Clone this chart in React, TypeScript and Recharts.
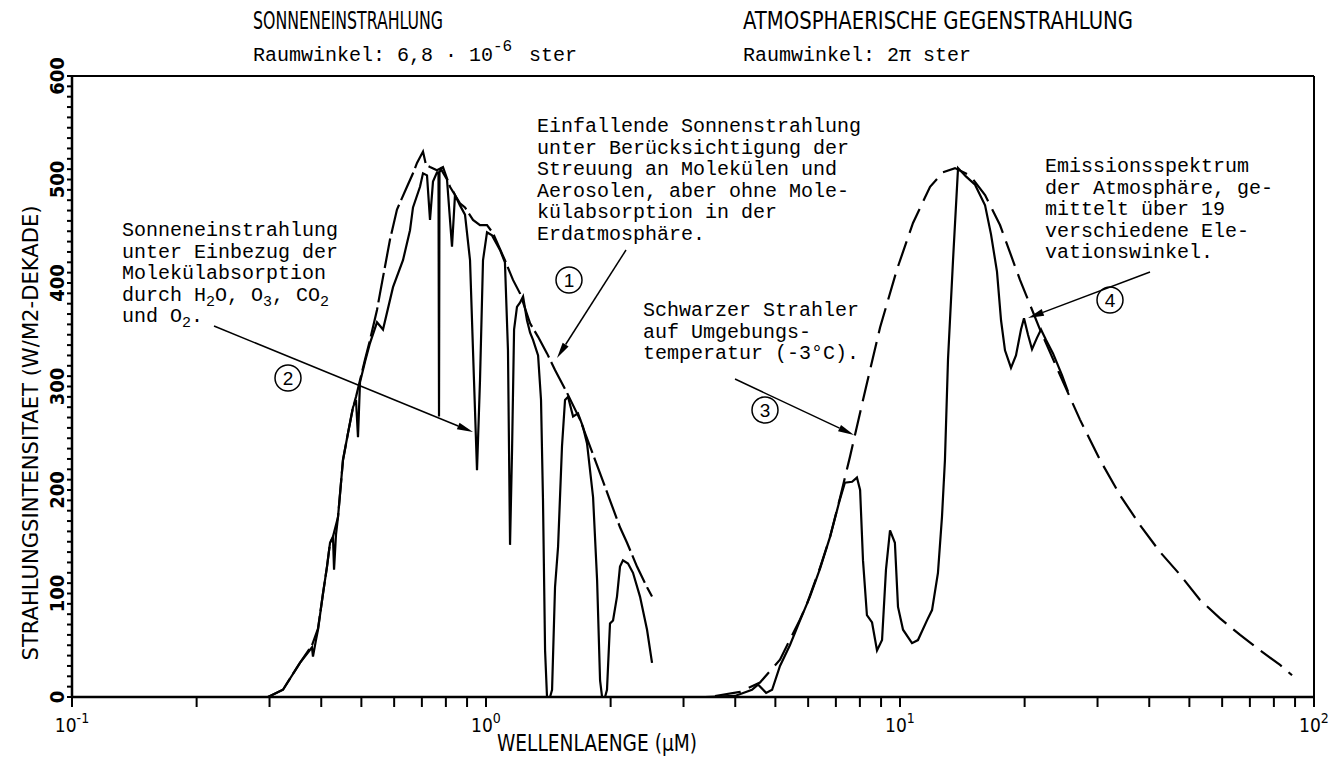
import React from 'react';
import { LineChart, Line, XAxis, YAxis, ReferenceLine } from 'recharts';

// (1) Einfallende Sonnenstrahlung ohne Molekülabsorption (gestrichelt)
const solarClearWl = [
  0.2975, 0.3233, 0.3553, 0.3799, 0.3928, 0.4039, 0.413, 0.42, 0.427, 0.4391, 0.4514, 0.4642,
  0.4773, 0.4853, 0.4962, 0.5102, 0.5246, 0.5454, 0.5546, 0.5863, 0.6095, 0.6444, 0.6663,
  0.6813, 0.7044, 0.7163, 0.7324, 0.7614, 0.7872, 0.8185, 0.8653, 0.8898, 0.9303, 0.9672,
  1.0056, 1.04, 1.111, 1.162, 1.208, 1.278, 1.336, 1.404, 1.468, 1.569, 1.687, 1.784, 1.886,
  1.993, 2.107, 2.191, 2.316, 2.449, 2.518,
];
const solarClearVal = [
  0, 7, 33, 50, 66, 100, 126, 149, 155, 174, 229, 255,
  280, 290, 306, 326, 345, 374, 390, 442, 471, 493, 506,
  516, 527, 514, 512, 509, 512, 493, 477, 473, 461, 456,
  456, 448, 422, 403, 390, 361, 348, 332, 316, 294, 268, 242, 216,
  190, 164, 149, 126, 106, 97,
];

// (2) Sonneneinstrahlung mit Molekülabsorption
const solarAbsWl = [
  0.2975, 0.3233, 0.3553, 0.3715, 0.3799, 0.382, 0.3884, 0.3928, 0.4039, 0.413, 0.42, 0.427,
  0.4295, 0.4342, 0.4391, 0.4514, 0.4642, 0.4773, 0.4853, 0.4907, 0.4962, 0.5102, 0.5246,
  0.5454, 0.5639, 0.5962, 0.6302, 0.6553, 0.6663, 0.6928, 0.7044, 0.7203, 0.7324, 0.7447,
  0.7614, 0.7678, 0.77, 0.7721, 0.7786, 0.805, 0.8277, 0.8416, 0.8653, 0.8898, 0.915, 0.9354,
  0.9512, 0.9672, 0.9835, 1.0056, 1.034, 1.081, 1.111, 1.13, 1.143, 1.156, 1.169, 1.188, 1.208,
  1.229, 1.256, 1.278, 1.299, 1.336, 1.358, 1.373, 1.389, 1.404, 1.428, 1.444, 1.468, 1.493,
  1.526, 1.552, 1.578, 1.623, 1.668, 1.715, 1.754, 1.814, 1.855, 1.886, 1.907, 1.939, 1.96,
  1.993, 2.027, 2.072, 2.107, 2.142, 2.203, 2.265, 2.355, 2.449, 2.518,
];
const solarAbsVal = [
  0, 7, 33, 43, 48, 39, 55, 65, 100, 126, 149, 154,
  123, 157, 174, 229, 255, 280, 287, 251, 304, 324, 342,
  362, 355, 396, 422, 451, 473, 493, 506, 504, 461, 498,
  507, 507, 271, 507, 510, 500, 435, 485, 475, 466, 422, 306,
  219, 306, 422, 449, 446, 432, 420, 335, 147, 239, 355, 377, 381,
  387, 364, 352, 345, 330, 287, 190, 45, 0, 0, 7, 106, 145,
  242, 287, 290, 271, 274, 261, 245, 193, 113, 16, 0, 0, 7,
  71, 74, 97, 126, 132, 129, 120, 97, 65, 33,
];

// (3) Schwarzer Strahler auf Umgebungstemperatur (gestrichelt)
const bbWl = [
  3.574, 4.107, 4.59, 5.13, 5.735, 5.96, 6.41, 6.78, 7.16, 7.57, 8.14, 8.95, 9.83, 10.75,
  11.82, 12.7, 13.58, 14.76, 16.05, 17.44, 19.49, 21.79, 24.35, 27.21, 30.42, 34.0, 38.0,
  42.5, 47.5, 53.0, 59.3, 66.3, 74.1, 82.8, 88.5,
];
const bbVal = [
  1, 5, 14, 36, 75, 90, 125, 155, 192, 232, 287, 357, 413, 458,
  493, 507, 511, 504, 485, 456, 403, 355, 311, 268, 229, 195, 166,
  140, 118, 94, 76, 60, 45, 31, 21,
];

// (4) Emissionsspektrum der Atmosphäre
const atmWl = [
  3.38, 3.995, 4.39, 4.54, 4.75, 4.91, 5.13, 5.42, 5.735, 6.06, 6.41, 6.78, 7.16, 7.36, 7.66,
  7.87, 8.01, 8.14, 8.32, 8.56, 8.8, 9.05, 9.25, 9.46, 9.72, 9.89, 10.17, 10.69, 11.05, 11.62,
  11.95, 12.35, 12.63, 12.84, 13.06, 13.43, 13.81, 14.43, 15.18, 16.05, 16.59, 17.15, 17.54,
  17.93, 18.54, 19.06, 19.6, 19.93, 20.38, 20.84, 21.42, 21.91, 22.53, 23.42, 24.62, 25.46,
];
const atmVal = [
  0, 1, 7, 12, 4, 7, 30, 50, 74, 97, 124, 155, 191, 207, 208,
  212, 200, 132, 79, 72, 45, 55, 123, 161, 149, 87, 65, 52, 55, 74,
  84, 120, 174, 229, 326, 422, 511, 503, 495, 475, 447, 411, 364,
  335, 318, 330, 355, 366, 350, 336, 347, 355, 345, 332, 311, 295,
];

const xTicks = [
  0.1, 0.2, 0.3, 0.4, 0.5, 0.6, 0.7, 0.8, 0.9,
  1, 2, 3, 4, 5, 6, 7, 8, 9,
  10, 20, 30, 40, 50, 60, 70, 80, 90, 100,
];
const xDecadeExp: Record<string, string> = { '0.1': '-1', '1': '0', '10': '1', '100': '2' };
const yLabels = [0, 100, 200, 300, 400, 500, 600];
const yTicks = Array.from({ length: 61 }, (_, i) => i * 10);

const zip = (wl: number[], v: number[]) => wl.map((w, i) => ({ wl: w, v: v[i] }));

const PLOT = "'DejaVu Sans Condensed', 'Liberation Sans Narrow', 'Arial Narrow', 'Liberation Sans', sans-serif";
const MONO = "'Courier New', 'Liberation Mono', monospace";
const LH = 21.5;

const XTick = (props: any) => {
  const { x, y, payload } = props;
  const exp = xDecadeExp[String(payload.value)];
  return (
    <g>
      <line x1={x} y1={y} x2={x} y2={y + 10} stroke="#000" strokeWidth={2} />
      {exp !== undefined && (
        <text x={x} y={y + 35} textAnchor="middle" fontFamily={PLOT} fontSize={19} fill="#000">
          10<tspan dy={-9} fontSize={14}>{exp}</tspan>
        </text>
      )}
    </g>
  );
};

const YTick = (props: any) => {
  const { x, y, payload } = props;
  const major = yLabels.includes(payload.value);
  const tx = x - 8;
  return (
    <g>
      <line x1={x} y1={y} x2={x - 5} y2={y} stroke="#000" strokeWidth={2} />
      {major && (
        <text
          x={tx}
          y={y}
          transform={`rotate(-90, ${tx}, ${y})`}
          textAnchor="middle"
          fontFamily={PLOT}
          fontWeight="bold"
          fontSize={20}
          fill="#000"
        >
          {payload.value}
        </text>
      )}
    </g>
  );
};

const Arrow = ({ x1, y1, x2, y2 }: { x1: number; y1: number; x2: number; y2: number }) => {
  const a = Math.atan2(y2 - y1, x2 - x1);
  const L = 16;
  const W = 3.5;
  const bx = x2 - L * Math.cos(a);
  const by = y2 - L * Math.sin(a);
  const px = -Math.sin(a) * W;
  const py = Math.cos(a) * W;
  return (
    <g>
      <line x1={x1} y1={y1} x2={bx} y2={by} stroke="#000" strokeWidth={1.5} />
      <polygon points={`${x2},${y2} ${bx + px},${by + py} ${bx - px},${by - py}`} fill="#000" />
    </g>
  );
};

const Circled = ({ cx, cy, n }: { cx: number; cy: number; n: string }) => (
  <g>
    <circle cx={cx} cy={cy} r={13} fill="none" stroke="#000" strokeWidth={1.5} />
    <text x={cx} y={cy + 7} textAnchor="middle" fontFamily="'Liberation Sans', sans-serif" fontSize={19} fill="#000">
      {n}
    </text>
  </g>
);

const Mono = ({ x, y, lines }: { x: number; y: number; lines: React.ReactNode[] }) => (
  <text fontFamily={MONO} fontSize={20} fill="#000">
    {lines.map((l, i) => (
      <tspan key={i} x={x} y={y + i * LH}>
        {l}
      </tspan>
    ))}
  </text>
);

const Sub = ({ c }: { c: string }) => (
  <tspan dy={5} fontSize={15}>
    {c}
  </tspan>
);

const Annotations = () => (
  <svg width={1335} height={757} style={{ position: 'absolute', left: 0, top: 0, pointerEvents: 'none' }}>
    <text x={253} y={29} fontFamily={PLOT} fontSize={24} textLength={190} lengthAdjust="spacingAndGlyphs">
      SONNENEINSTRAHLUNG
    </text>
    <text x={253} y={61} fontFamily={MONO} fontSize={20}>
      Raumwinkel: 6,8 · 10
    </text>
    <text x={493} y={51} fontFamily={MONO} fontSize={16}>
      -6
    </text>
    <text x={529} y={61} fontFamily={MONO} fontSize={20}>
      ster
    </text>
    <text x={743} y={29} fontFamily={PLOT} fontSize={24} textLength={390} lengthAdjust="spacingAndGlyphs">
      ATMOSPHAERISCHE  GEGENSTRAHLUNG
    </text>
    <text x={743} y={61} fontFamily={MONO} fontSize={20}>
      Raumwinkel: 2π ster
    </text>

    <text
      x={30}
      y={433}
      transform="rotate(-90, 30, 433)"
      textAnchor="middle"
      dominantBaseline="central"
      fontFamily={PLOT}
      fontSize={22}
      textLength={455}
      lengthAdjust="spacingAndGlyphs"
    >
      STRAHLUNGSINTENSITAET (W/M2-DEKADE)
    </text>
    <text x={597} y={751} textAnchor="middle" fontFamily={PLOT} fontSize={23} textLength={200} lengthAdjust="spacingAndGlyphs">
      WELLENLAENGE (µM)
    </text>

    <Mono
      x={537}
      y={132}
      lines={[
        'Einfallende Sonnenstrahlung',
        'unter Berücksichtigung der',
        'Streuung an Molekülen und',
        'Aerosolen, aber ohne Mole-',
        'külabsorption in der',
        'Erdatmosphäre.',
      ]}
    />
    <Circled cx={569} cy={280} n="1" />
    <Arrow x1={626} y1={250} x2={557} y2={358} />

    <text fontFamily={MONO} fontSize={20} fill="#000">
      <tspan x={122} y={236}>Sonneneinstrahlung</tspan>
      <tspan x={122} y={236 + LH}>unter Einbezug der</tspan>
      <tspan x={122} y={236 + 2 * LH}>Molekülabsorption</tspan>
      <tspan x={122} y={236 + 3 * LH}>durch H</tspan>
      <Sub c="2" />
      <tspan dy={-5}>O, O</tspan>
      <Sub c="3" />
      <tspan dy={-5}>, CO</tspan>
      <Sub c="2" />
      <tspan x={122} y={236 + 4 * LH}>und O</tspan>
      <Sub c="2" />
      <tspan dy={-5}>.</tspan>
    </text>
    <Circled cx={288} cy={378} n="2" />
    <Arrow x1={214} y1={326} x2={473} y2={432} />

    <Mono x={643} y={316} lines={['Schwarzer Strahler', 'auf Umgebungs-', 'temperatur (-3°C).']} />
    <Circled cx={765} cy={410} n="3" />
    <Arrow x1={735} y1={379} x2={854} y2={435} />

    <Mono
      x={1045}
      y={172}
      lines={['Emissionsspektrum', 'der Atmosphäre, ge-', 'mittelt über 19', 'verschiedene Ele-', 'vationswinkel.']}
    />
    <Circled cx={1110} cy={300} n="4" />
    <Arrow x1={1150} y1={272} x2={1028} y2={318} />
  </svg>
);

export default function App() {
  return (
    <div style={{ position: 'absolute', left: 0, top: 0, width: 1335, height: 757, background: '#fff' }}>
      <LineChart width={1335} height={757} margin={{ top: 76, right: 21, bottom: 0, left: 0 }}>
        <XAxis
          type="number"
          dataKey="wl"
          scale="log"
          domain={[0.1, 100]}
          allowDataOverflow
          ticks={xTicks}
          interval={0}
          height={60}
          tickSize={0}
          tickMargin={0}
          tickLine={false}
          tick={<XTick />}
          axisLine={{ stroke: '#000', strokeWidth: 2.5 }}
        />
        <YAxis
          type="number"
          domain={[0, 600]}
          ticks={yTicks}
          interval={0}
          width={72}
          tickSize={0}
          tickMargin={0}
          tickLine={false}
          tick={<YTick />}
          axisLine={{ stroke: '#000', strokeWidth: 2.5 }}
        />
        <ReferenceLine y={600} stroke="#000" strokeWidth={2} />
        <ReferenceLine x={100} stroke="#000" strokeWidth={2} />
        <Line
          data={zip(solarClearWl, solarClearVal)}
          dataKey="v"
          type="linear"
          dot={false}
          stroke="#000"
          strokeWidth={2.2}
          strokeDasharray="30 5"
          isAnimationActive={false}
        />
        <Line
          data={zip(solarAbsWl, solarAbsVal)}
          dataKey="v"
          type="linear"
          dot={false}
          stroke="#000"
          strokeWidth={2.2}
          isAnimationActive={false}
        />
        <Line
          data={zip(bbWl, bbVal)}
          dataKey="v"
          type="linear"
          dot={false}
          stroke="#000"
          strokeWidth={2.2}
          strokeDasharray="26 9"
          isAnimationActive={false}
        />
        <Line
          data={zip(atmWl, atmVal)}
          dataKey="v"
          type="linear"
          dot={false}
          stroke="#000"
          strokeWidth={2.2}
          isAnimationActive={false}
        />
      </LineChart>
      <Annotations />
    </div>
  );
}
